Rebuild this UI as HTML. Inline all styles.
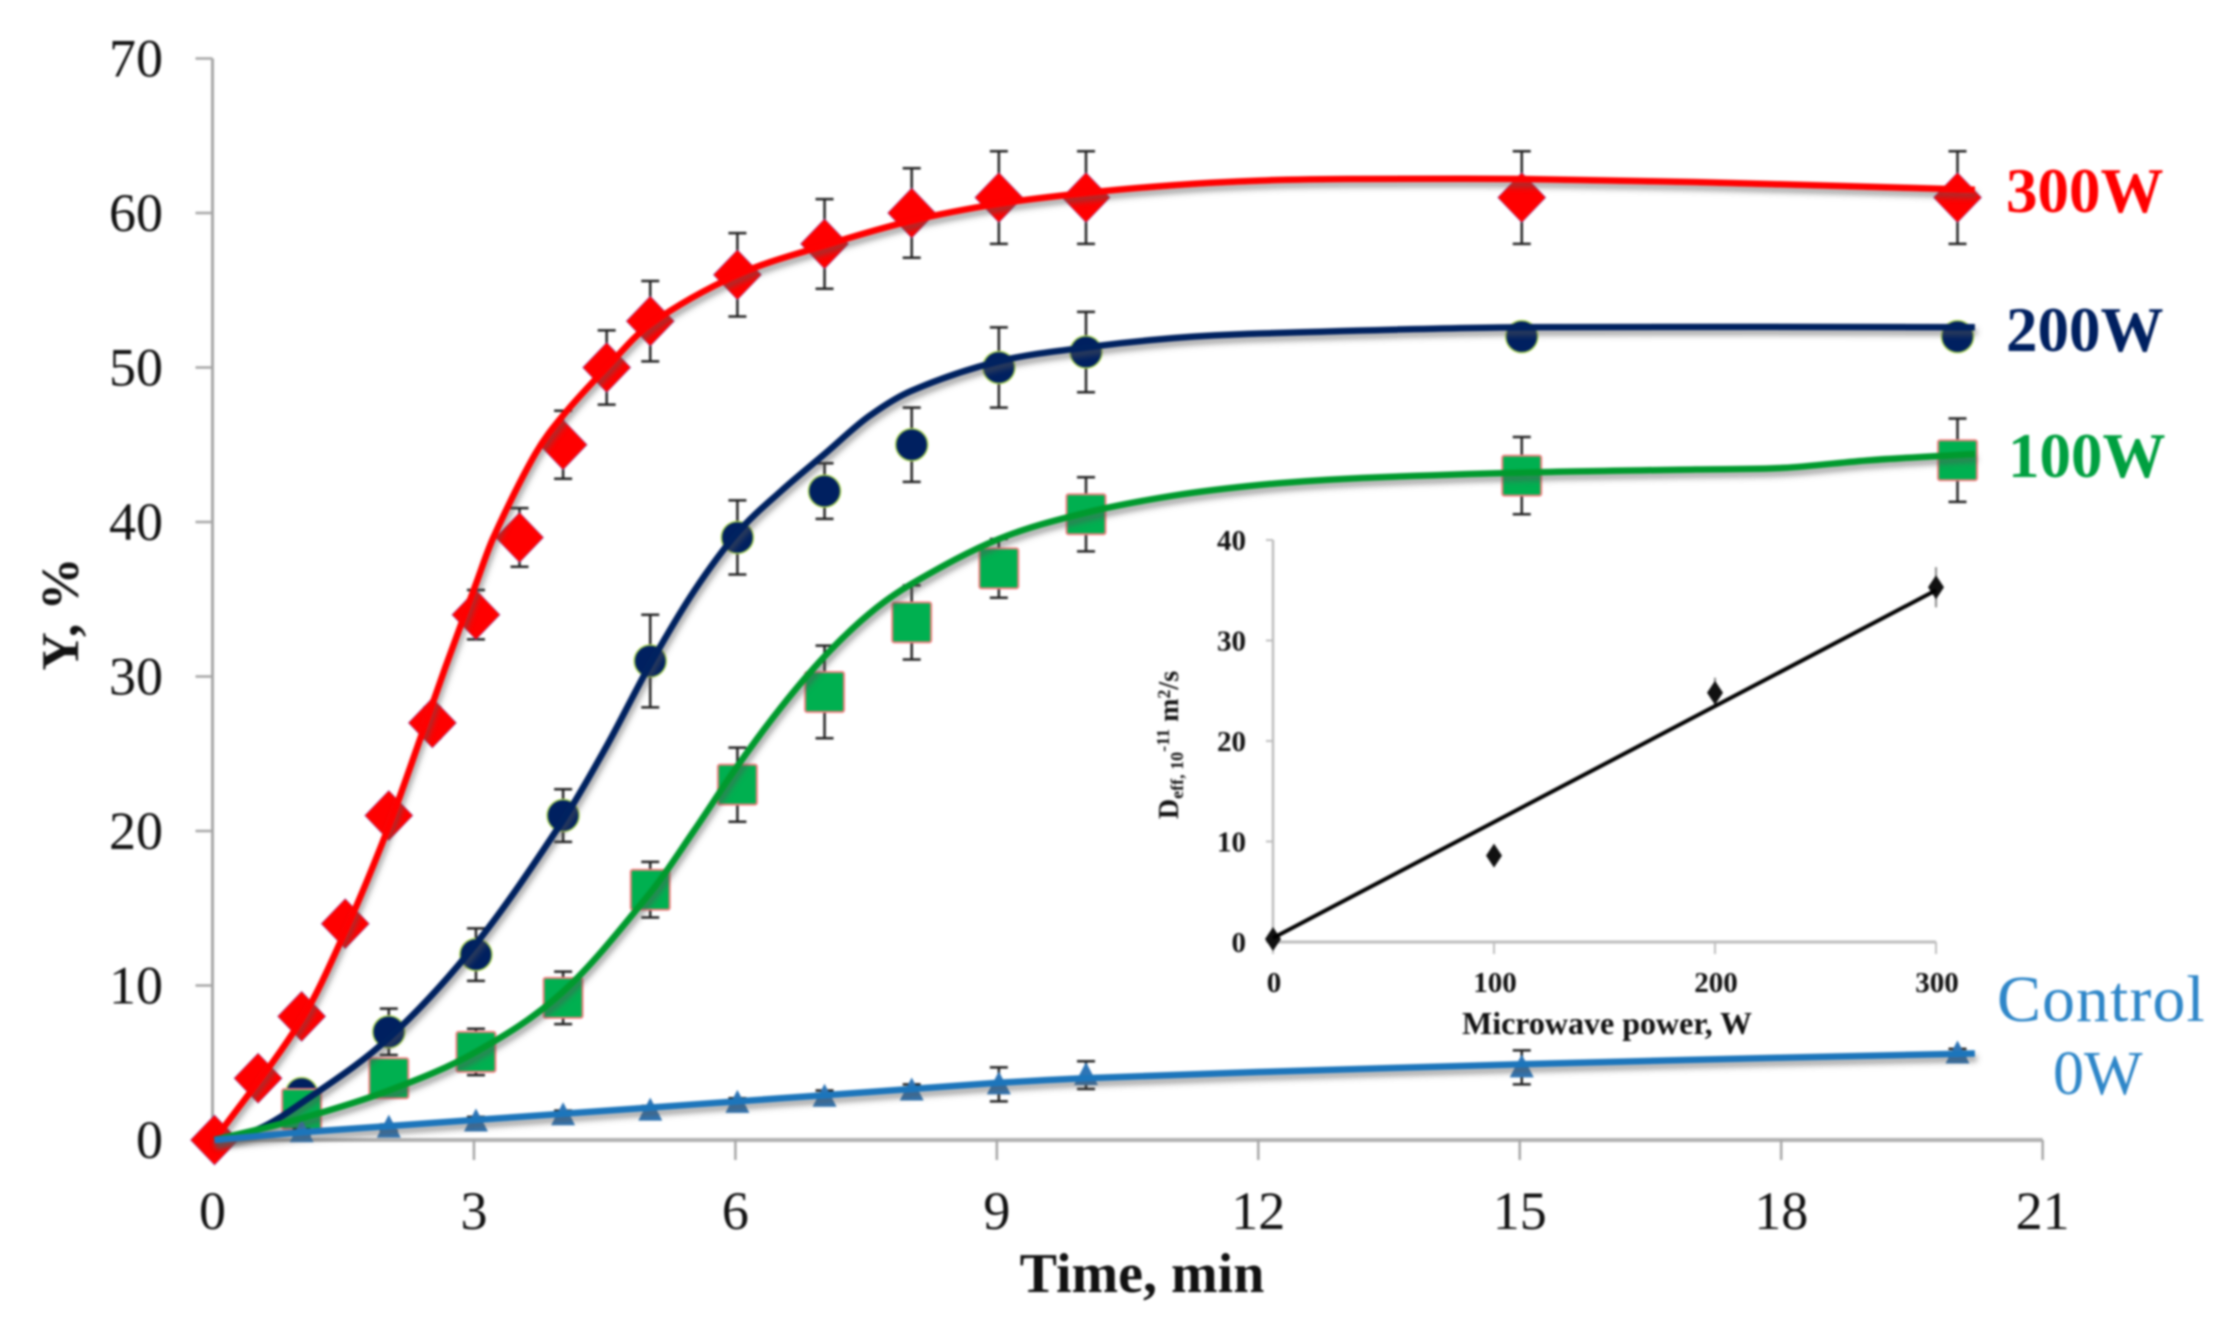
<!DOCTYPE html>
<html lang="en">
<head>
<meta charset="utf-8">
<title>Y vs Time at microwave powers</title>
<style>
html,body{margin:0;padding:0;background:#fff;width:2236px;height:1321px;overflow:hidden}
svg{display:block;filter:blur(1px)}
text{font-family:"Liberation Serif",serif}
</style>
</head>
<body>
<svg id="chart" xmlns="http://www.w3.org/2000/svg" width="2236" height="1321" viewBox="0 0 2236 1321">
<defs>
<filter id="line-shadow" x="-5%" y="-20%" width="110%" height="140%" filterUnits="objectBoundingBox">
<feDropShadow dx="2" dy="5" stdDeviation="3" flood-color="#555" flood-opacity="0.55"/>
</filter>
</defs>
<rect width="2236" height="1321" fill="#fff"/>
<g id="axes"></g>
<g id="inset"></g>
<g id="marks" transform="translate(2,0)"></g>
<text x="1142" y="1292" text-anchor="middle" font-size="56" font-weight="bold" fill="#111">Time, min</text>
<text transform="translate(78,614) rotate(-90)" text-anchor="middle" font-size="53" font-weight="bold" fill="#111">Y, %</text>
<text x="2006" y="212" font-size="63" font-weight="bold" fill="#ff0000">300W</text>
<text x="2006" y="351" font-size="63" font-weight="bold" fill="#002060">200W</text>
<text x="2008" y="477" font-size="63" font-weight="bold" fill="#00a040">100W</text>
<text x="1997" y="1021" font-size="66" letter-spacing="1" fill="#2e86c8">Control</text>
<text x="2053" y="1094" font-size="62" fill="#2e86c8">0W</text>
<text x="1607" y="1034" text-anchor="middle" font-size="32" font-weight="bold" fill="#111">Microwave power, W</text>
<text transform="translate(1178,745) rotate(-90)" text-anchor="middle" font-size="28" font-weight="bold" fill="#111">D<tspan font-size="18" dy="5">eff, 10</tspan><tspan font-size="18" dy="-14">-11</tspan><tspan dy="9"> m</tspan><tspan font-size="18" dy="-8">2</tspan><tspan dy="8">/s</tspan></text>
</svg>
<script>
var xTicks = [0, 3, 6, 9, 12, 15, 18, 21];
var yTicks = [0, 10, 20, 30, 40, 50, 60, 70];
var insetXTicks = [0, 100, 200, 300];
var insetYTicks = [0, 10, 20, 30, 40];

var t300 = [0, 0.5, 1, 1.5, 2, 2.5, 3, 3.5, 4, 4.5, 5, 6, 7, 8, 9, 10, 15, 20];
var y300 = [0, 4, 8, 14, 21, 27, 34, 39, 45, 50, 53, 56, 58, 60, 61, 61, 61, 61];
var e300 = [0, 0.5, 0.5, 0.5, 0.5, 1, 1.6, 1.9, 2.2, 2.4, 2.6, 2.7, 2.9, 2.9, 3, 3, 3, 3];
var fitT300 = [0, 1, 1.5, 2, 2.4, 2.65, 3, 3.2, 3.68, 4, 4.5, 5, 6, 7, 8, 9, 10, 11, 12, 13, 15, 17, 20.2];
var fitY300 = [0, 7.8, 13.5, 20.3, 26.6, 30.6, 36, 39, 44.4, 46.9, 50, 52.8, 56, 57.9, 59.5, 60.6, 61.3, 61.8, 62.1, 62.2, 62.2, 62, 61.5];

var t200 = [1, 2, 3, 4, 5, 6, 7, 8, 9, 10, 15, 20];
var y200 = [3, 7, 12, 21, 31, 39, 42, 45, 50, 51, 52, 52];
var e200 = [0.5, 1.5, 1.7, 1.7, 3, 2.4, 1.8, 2.4, 2.6, 2.6, 0.5, 0.5];
var fitT200 = [0, 0.5, 1, 2, 3, 4, 4.5, 5, 5.5, 6, 6.5, 7, 7.5, 8, 9, 10, 11, 12, 15, 20.2];
var fitY200 = [0, 0.7, 2.4, 6.6, 12.7, 20.7, 25.5, 30.8, 35.5, 39.3, 42, 44.4, 46.8, 48.5, 50.4, 51.3, 51.9, 52.2, 52.6, 52.6];

var t100 = [1, 2, 3, 4, 5, 6, 7, 8, 9, 10, 15, 20];
var y100 = [2, 4, 5.7, 9.2, 16.2, 23, 29, 33.5, 37, 40.5, 43, 44];
var e100 = [0.5, 1, 1.5, 1.7, 1.8, 2.4, 3, 2.4, 1.9, 2.4, 2.5, 2.7];
var fitT100 = [0, 1, 2, 3, 4, 5, 5.5, 6, 6.5, 7, 7.5, 8, 9, 10, 11, 12, 13, 15, 17, 18, 19, 20.2];
var fitY100 = [0, 1.4, 3.2, 5.7, 9.6, 16, 20, 24.2, 28, 31.3, 34, 36, 38.9, 40.6, 41.7, 42.4, 42.8, 43.2, 43.4, 43.5, 44, 44.4];

var t0 = [1, 2, 3, 4, 5, 6, 7, 8, 9, 10, 15, 20];
var y0 = [0.5, 0.8, 1.2, 1.6, 1.9, 2.4, 2.8, 3.2, 3.6, 4.2, 4.7, 5.6];
var e0 = [0.2, 0.2, 0.3, 0.3, 0.3, 0.3, 0.4, 0.4, 1.1, 0.9, 1.1, 0.3];
var fitT0 = [0, 1, 2, 3, 4, 5, 6, 7, 8, 9, 10, 12, 15, 17, 20.2];
var fitY0 = [0, 0.5, 0.9, 1.3, 1.7, 2.1, 2.5, 2.9, 3.3, 3.7, 4, 4.4, 4.9, 5.2, 5.6];

var insetPower = [0, 100, 200, 300];
var insetDeff = [0.3, 8.6, 24.8, 35.3];
var insetErr = [0.3, 0.6, 1.5, 2];
var insetFitPower = [0, 300];
var insetFitDeff = [0.4, 35];

var SVGNS = 'http://www.w3.org/2000/svg';
function sx(v) { return 212.5 + v * 87.15; }
function sy(v) { return 1140 - v * 15.45; }
function ix(v) { return 1273 + v * 2.21; }
function iy(v) { return 942 - v * 10.05; }

function make(parent, tag, attrs, txt) {
  var el = document.createElementNS(SVGNS, tag);
  for (var k in attrs) el.setAttribute(k, attrs[k]);
  if (txt !== undefined) el.textContent = txt;
  parent.appendChild(el);
  return el;
}
function smooth(xs, ys, fx, fy) {
  var px = xs.map(fx), py = ys.map(fy);
  var d = 'M' + px[0].toFixed(1) + ' ' + py[0].toFixed(1);
  for (var i = 0; i < px.length - 1; i++) {
    var a = Math.max(i - 1, 0), b = Math.min(i + 2, px.length - 1);
    var h = px[i + 1] - px[i];
    var m1 = (py[i + 1] - py[a]) / (px[i + 1] - px[a]);
    var m2 = (py[b] - py[i]) / (px[b] - px[i]);
    var c1x = px[i] + h / 3, c1y = py[i] + m1 * h / 3;
    var c2x = px[i + 1] - h / 3, c2y = py[i + 1] - m2 * h / 3;
    d += 'C' + c1x.toFixed(1) + ' ' + c1y.toFixed(1) + ' ' + c2x.toFixed(1) + ' ' + c2y.toFixed(1) + ' ' + px[i + 1].toFixed(1) + ' ' + py[i + 1].toFixed(1);
  }
  return d;
}

var axes = document.getElementById('axes');
var el;
el = make(axes, 'line', {x1: sx(0), y1: sy(70), x2: sx(0), y2: sy(0), stroke: '#a6a6a6', 'stroke-width': 3});


el = make(axes, 'line', {x1: sx(0), y1: sy(0), x2: sx(21), y2: sy(0), stroke: '#b0b0b0', 'stroke-width': 4});



yTicks.forEach(function (v) {
  var t = make(axes, 'line', {x1: sx(0) - 17, y1: sy(v), x2: sx(0), y2: sy(v), stroke: '#a6a6a6', 'stroke-width': 2.5});
  
  
  var l = make(axes, 'text', {x: 163, y: sy(v) + 18, 'text-anchor': 'end', 'font-size': 54, fill: '#111'}, String(v));
  
  
});
xTicks.forEach(function (v) {
  var t = make(axes, 'line', {x1: sx(v), y1: sy(0), x2: sx(v), y2: sy(0) + 20, stroke: '#a6a6a6', 'stroke-width': 2.5});
  
  
  var l = make(axes, 'text', {x: sx(v), y: 1229, 'text-anchor': 'middle', 'font-size': 54, fill: '#111'}, String(v));
  
  
});

var inset = document.getElementById('inset');
el = make(inset, 'line', {x1: ix(0), y1: iy(40), x2: ix(0), y2: iy(0), stroke: '#bdbdbd', 'stroke-width': 2.5});


el = make(inset, 'line', {x1: ix(0), y1: iy(0), x2: ix(300), y2: iy(0), stroke: '#bdbdbd', 'stroke-width': 3});


insetYTicks.forEach(function (v) {
  var t = make(inset, 'line', {x1: ix(0) - 7, y1: iy(v), x2: ix(0), y2: iy(v), stroke: '#bdbdbd', 'stroke-width': 2});
  
  
  var l = make(inset, 'text', {x: 1246, y: iy(v) + 10, 'text-anchor': 'end', 'font-size': 29, 'font-weight': 'bold', fill: '#111'}, String(v));
  
  
});
insetXTicks.forEach(function (v) {
  var t = make(inset, 'line', {x1: ix(v), y1: iy(0), x2: ix(v), y2: iy(0) + 12, stroke: '#bdbdbd', 'stroke-width': 2});
  
  
  var l = make(inset, 'text', {x: ix(v) + 1, y: 992, 'text-anchor': 'middle', 'font-size': 29, 'font-weight': 'bold', fill: '#111'}, String(v));
  
  
});
insetPower.forEach(function (p, i) {
  var x = ix(p), y = iy(insetDeff[i]), e = insetErr[i] * 10.05;
  var b = make(inset, 'line', {x1: x, y1: y - e, x2: x, y2: y + e, stroke: '#888', 'stroke-width': 2});
  
  
  var m = make(inset, 'path', {d: 'M' + x + ' ' + (y - 12) + 'L' + (x + 8) + ' ' + y + 'L' + x + ' ' + (y + 12) + 'L' + (x - 8) + ' ' + y + 'Z', fill: '#111'});
  
  
});
el = make(inset, 'line', {x1: ix(insetFitPower[0]), y1: iy(insetFitDeff[0]), x2: ix(insetFitPower[1]), y2: iy(insetFitDeff[1]), stroke: '#000', 'stroke-width': 4});



var marks = document.getElementById('marks');

function errorBars(group, ts, ys, es) {
  ts.forEach(function (t, i) {
    var x = sx(t), up = sy(ys[i] + es[i]), dn = sy(ys[i] - es[i]);
    var p = make(group, 'path', {d: 'M' + x + ' ' + up + 'V' + dn + 'M' + (x - 9) + ' ' + up + 'h18M' + (x - 9) + ' ' + dn + 'h18', stroke: '#222', 'stroke-width': 2.5, fill: 'none'});
    
    
  });
}

var g300 = make(marks, 'g', {});


errorBars(g300, t300, y300, e300);
t300.forEach(function (t, i) {
  var x = sx(t), y = sy(y300[i]);
  var m = make(g300, 'path', {d: 'M' + x + ' ' + (y - 25) + 'L' + (x + 24) + ' ' + y + 'L' + x + ' ' + (y + 25) + 'L' + (x - 24) + ' ' + y + 'Z', fill: '#ff0000', stroke: '#8a50b0', 'stroke-width': 1, 'stroke-opacity': 0.6});
  
  
});
var g200 = make(marks, 'g', {});


errorBars(g200, t200, y200, e200);
t200.forEach(function (t, i) {
  var m = make(g200, 'ellipse', {cx: sx(t), cy: sy(y200[i]), rx: 16, ry: 16, fill: '#002060', stroke: '#a4d050', 'stroke-width': 1.5});
  
  
});
var g100 = make(marks, 'g', {});


errorBars(g100, t100, y100, e100);
t100.forEach(function (t, i) {
  var m = make(g100, 'rect', {x: sx(t) - 19.5, y: sy(y100[i]) - 20, width: 39, height: 40, rx: 2, fill: '#00b050', stroke: '#f08080', 'stroke-width': 2});
  
  
});
var g0 = make(marks, 'g', {});


errorBars(g0, t0, y0, e0);
t0.forEach(function (t, i) {
  var x = sx(t), y = sy(y0[i]);
  var m = make(g0, 'path', {d: 'M' + x + ' ' + (y - 13) + 'L' + (x + 12) + ' ' + (y + 10) + 'L' + (x - 12) + ' ' + (y + 10) + 'Z', fill: '#2e75b6'});
  
  
});

el = make(marks, 'path', {d: smooth(fitT300, fitY300, sx, sy), fill: 'none', stroke: '#ff0000', 'stroke-width': 6.5, filter: 'url(#line-shadow)'});


el = make(marks, 'path', {d: smooth(fitT200, fitY200, sx, sy), fill: 'none', stroke: '#002060', 'stroke-width': 6.5, filter: 'url(#line-shadow)'});


el = make(marks, 'path', {d: smooth(fitT100, fitY100, sx, sy), fill: 'none', stroke: '#009a2e', 'stroke-width': 6.5, filter: 'url(#line-shadow)'});


el = make(marks, 'path', {d: smooth(fitT0, fitY0, sx, sy), fill: 'none', stroke: '#1b75bb', 'stroke-width': 6.5, filter: 'url(#line-shadow)'});


</script>
</body>
</html>
